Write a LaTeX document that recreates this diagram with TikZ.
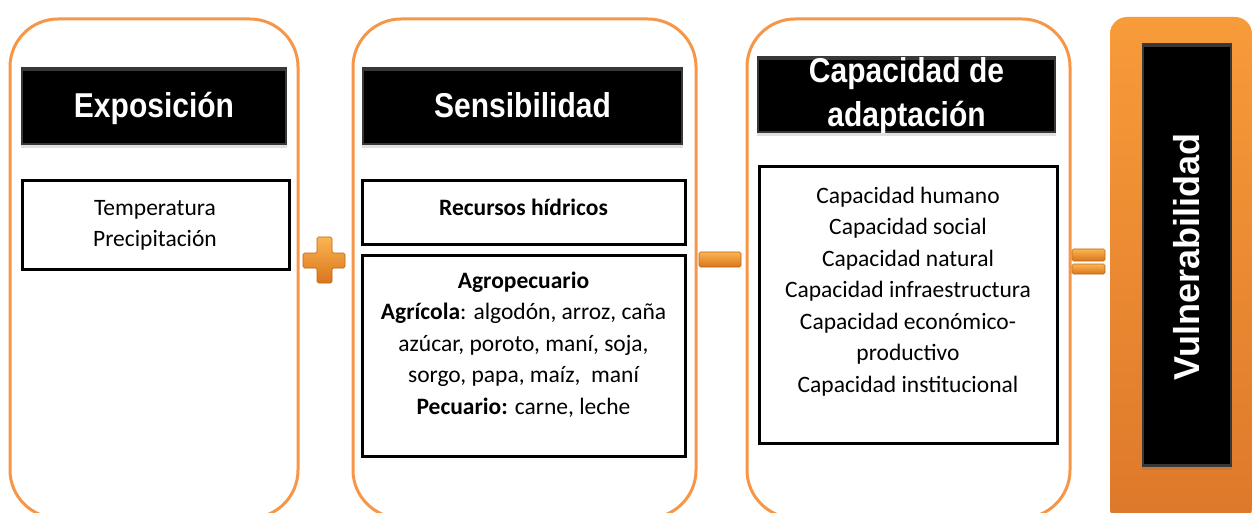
\documentclass[tikz,border=0pt]{standalone}
\usepackage{fontspec}
\usepackage{graphicx}
\setmainfont{Carlito}
\newfontfamily\hfont{Liberation Sans}
\usetikzlibrary{shadows}
\definecolor{porange}{HTML}{F79646}
\definecolor{vtop}{HTML}{F89B3A}
\definecolor{vbot}{HTML}{DD782A}
\definecolor{slight}{HTML}{FBB552}
\definecolor{sdark}{HTML}{D9751C}
\definecolor{sedge}{HTML}{C0650F}
\newcommand{\hstretch}[1]{\scalebox{1}[1.15]{#1}}
\begin{document}
\begin{tikzpicture}[x=1pt,y=-1pt,
  panel/.style={draw=porange, line width=3pt, rounded corners=48pt, rectangle, inner sep=0pt},
  header/.style={fill=black!78, rectangle, inner sep=0pt,
     drop shadow={shadow xshift=0pt, shadow yshift=-3pt, opacity=0.2, fill=black!60}},
  htext/.style={text=white, font=\hfont\bfseries\fontsize{30}{44}\selectfont, inner sep=0pt, align=center},
  wbox/.style={draw=black, line width=3pt, fill=white, rectangle, inner sep=0pt},
  body/.style={font=\fontsize{23.5}{31.5}\selectfont, align=center, inner sep=0pt, anchor=north},
  sign/.style={top color=slight, bottom color=sdark, draw=sedge, line width=0.6pt, rounded corners=1.5pt}
]
\useasboundingbox (0,0) rectangle (1253,513);
\clip (0,0) rectangle (1253,513);

% panels
\node[panel, minimum width=288pt, minimum height=499pt] (p1) at (154,268.5) {};
\node[panel, minimum width=343pt, minimum height=499pt] (p2) at (524.5,268.5) {};
\node[panel, minimum width=323pt, minimum height=499pt] (p3) at (908.5,268.5) {};

% headers
\node[header, minimum width=266pt, minimum height=78pt] (h1) at (154,106) {};
\fill[black] ([shift={(2pt,-4pt)}]h1.north west) rectangle ([shift={(-2pt,2pt)}]h1.south east);
\node[htext, anchor=base] (h1t) at (154,118) {\hstretch{Exposición}};

\node[header, minimum width=321pt, minimum height=78pt] (h2) at (522.5,106) {};
\fill[black] ([shift={(2pt,-4pt)}]h2.north west) rectangle ([shift={(-2pt,2pt)}]h2.south east);
\node[htext, anchor=base] (h2t) at (522.5,118) {\hstretch{Sensibilidad}};

\node[header, minimum width=299pt, minimum height=77pt] (h3) at (906.5,94.5) {};
\fill[black] ([shift={(2pt,-4pt)}]h3.north west) rectangle ([shift={(-2pt,2pt)}]h3.south east);
\node[htext] (h3t) at (906.5,96) {\hstretch{Capacidad de}\\\hstretch{adaptación}};

% white boxes
\node[wbox, minimum width=267pt, minimum height=88pt] (b1) at (155.5,225) {};
\node[body] (t1) at (155,193) {\strut Temperatura\\Precipitación};

\node[wbox, minimum width=323pt, minimum height=64pt] (b2a) at (523.5,213) {};
\node[body] (t2a) at (523.5,193) {\strut\textbf{Recursos hídricos}};

\node[wbox, minimum width=323pt, minimum height=201pt] (b2b) at (523.5,355.5) {};
\node[body] (t2b) at (523.5,266) {\strut\textbf{Agropecuario}\\
  \textbf{Agrícola}: algodón, arroz, caña\\
  azúcar, poroto, maní, soja,\\
  sorgo, papa, maíz,\ \ maní\\
  \textbf{Pecuario:} carne, leche};

\node[wbox, minimum width=298pt, minimum height=276pt] (b3) at (908,305) {};
\node[body] (t3) at (908,181) {\strut Capacidad humano\\
  Capacidad social\\
  Capacidad natural\\
  Capacidad infraestructura\\
  Capacidad económico-\\
  productivo\\
  Capacidad institucional};

% operators
\path[sign] (317,237) -- (332,237) -- (332,253) -- (345,253) -- (345,268) -- (332,268)
  -- (332,283) -- (317,283) -- (317,268) -- (303,268) -- (303,253) -- (317,253) -- cycle;
\path[sign] (699,252) rectangle (741,267);
\path[sign] (1072,249) rectangle (1105,261);
\path[sign] (1072,264) rectangle (1105,274);

% result
\node[rectangle, rounded corners=17pt, top color=vtop, bottom color=vbot,
      minimum width=142pt, minimum height=508pt, inner sep=0pt] (v) at (1181,271) {};
\node[header, minimum width=90pt, minimum height=424pt] (vb) at (1187,255) {};
\fill[black] ([shift={(2pt,-4pt)}]vb.north west) rectangle ([shift={(-2pt,3pt)}]vb.south east);
\node[text=white, font=\hfont\bfseries\fontsize{36}{40}\selectfont, rotate=90, inner sep=0pt] (vt) at (1187,257) {Vulnerabilidad};
\end{tikzpicture}
\end{document}
